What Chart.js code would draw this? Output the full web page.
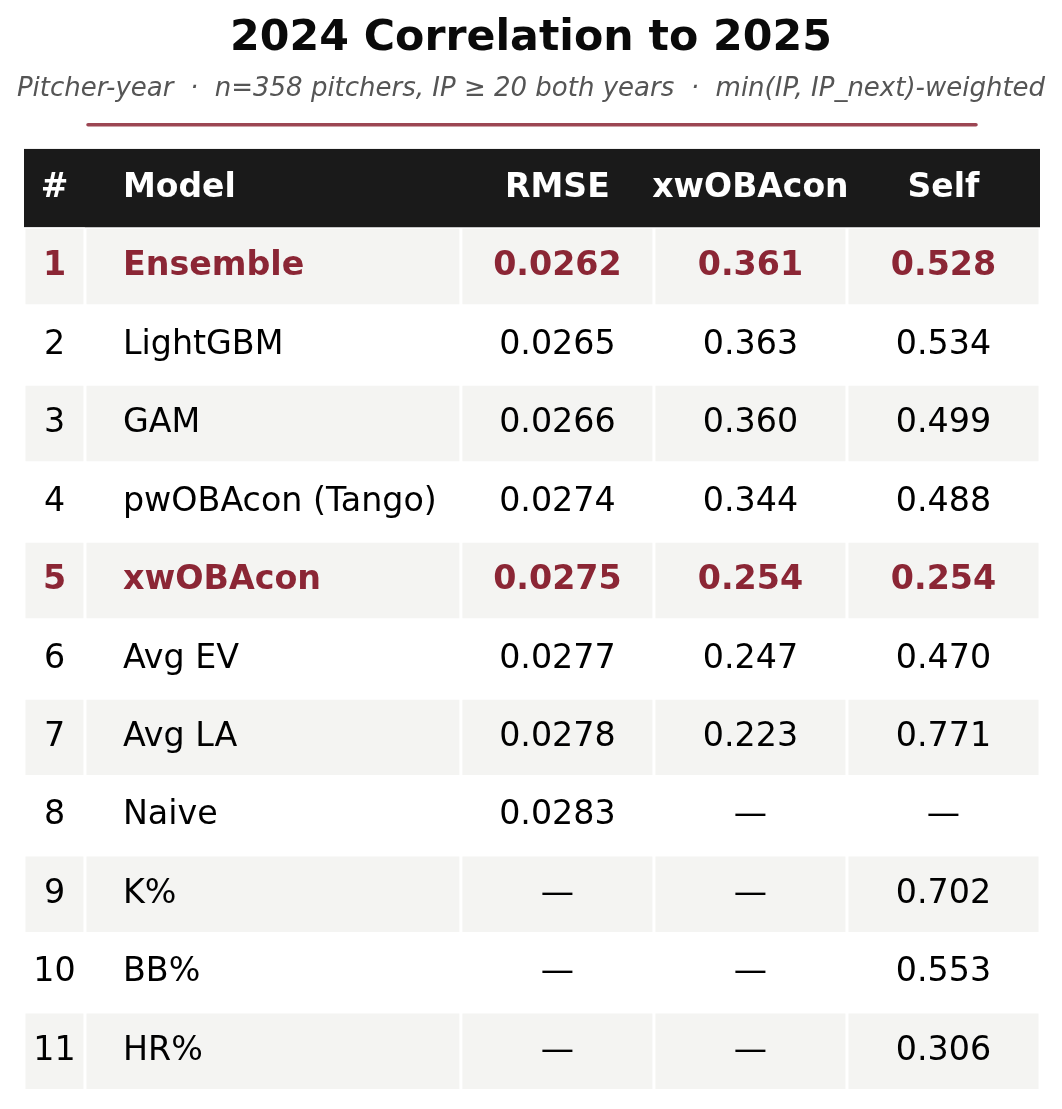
<!DOCTYPE html>
<html>
<head>
<meta charset="utf-8">
<title>2024 Correlation to 2025</title>
<script src="https://cdn.jsdelivr.net/npm/chart.js@4.4.1/dist/chart.umd.min.js"></script>
<style>
    html, body { margin: 0; padding: 0; background: #ffffff; }
</style>
</head>
<body>
<canvas id="corrTable" width="1062" height="1109"></canvas>
<script>
// ================= TABLE DATA =================

const headers = ["#", "Model", "RMSE", "xwOBAcon", "Self"];
const ranks = [1, 2, 3, 4, 5, 6, 7, 8, 9, 10, 11];
const models = ["Ensemble", "LightGBM", "GAM", "pwOBAcon (Tango)", "xwOBAcon", "Avg EV", "Avg LA", "Naive", "K%", "BB%", "HR%"];
const rmse = [0.0262, 0.0265, 0.0266, 0.0274, 0.0275, 0.0277, 0.0278, 0.0283, null, null, null];
const xwobaconCorr = [0.361, 0.363, 0.360, 0.344, 0.254, 0.247, 0.223, null, null, null, null];
const selfCorr = [0.528, 0.534, 0.499, 0.488, 0.254, 0.470, 0.771, null, 0.702, 0.553, 0.306];
const highlightRanks = [1, 5];

const FONT = "DejaVu Sans";
const RED = "#8b2635";

// column widths as fractions of the table width
const colWidths = [0.06, 0.37, 0.19, 0.19, 0.19];
const colEdges = [0];
colWidths.forEach(w => colEdges.push(colEdges[colEdges.length - 1] + w));

const rowLabels = ["header"].concat(models);

function fmt(v, digits) {
    return v === null ? "—" : v.toFixed(digits);
}

// one dataset per column, the header is a single bar across the table
const datasets = colWidths.map((w, c) => ({
    label: headers[c],
    data: rowLabels.map((_, r) => r === 0 ? (c === 0 ? [0, 1] : null) : [colEdges[c], colEdges[c + 1]]),
    backgroundColor: ctx => ctx.dataIndex === 0 ? "#1a1a1a" : (ctx.dataIndex % 2 === 1 ? "#f4f4f2" : "#ffffff"),
    borderColor: "#ffffff",
    borderWidth: ctx => ctx.dataIndex === 0 ? 0 : 1.5,
    borderSkipped: false,
    inflateAmount: 0,
    categoryPercentage: 1,
    barPercentage: 1,
    grouped: false
}));

// ================= CELL TEXT + RULE =================

const tableText = {
    id: "tableText",
    afterDatasetsDraw(chart) {
        const { ctx, scales: { x, y } } = chart;
        ctx.save();
        ctx.textBaseline = "middle";

        const cellX = c => c === 1 ? x.getPixelForValue(colEdges[1]) + 38 : x.getPixelForValue((colEdges[c] + colEdges[c + 1]) / 2);

        // header
        ctx.fillStyle = "#ffffff";
        ctx.font = "bold 33px '" + FONT + "'";
        headers.forEach((h, c) => {
            ctx.textAlign = c === 1 ? "left" : "center";
            ctx.fillText(h, cellX(c), y.getPixelForValue(0));
        });

        // body rows
        ranks.forEach((rank, i) => {
            const hi = highlightRanks.includes(rank);
            const cells = [String(rank), models[i], fmt(rmse[i], 4), fmt(xwobaconCorr[i], 3), fmt(selfCorr[i], 3)];
            ctx.fillStyle = hi ? RED : "#000000";
            ctx.font = (hi ? "bold " : "") + "33.3px '" + FONT + "'";
            const py = y.getPixelForValue(i + 1);
            cells.forEach((t, c) => {
                ctx.textAlign = c === 1 ? "left" : "center";
                ctx.fillText(t, cellX(c), py);
            });
        });

        // accent rule under the subtitle
        ctx.strokeStyle = RED;
        ctx.globalAlpha = 0.85;
        ctx.lineWidth = 3.5;
        ctx.lineCap = "round";
        ctx.beginPath();
        ctx.moveTo(88, chart.chartArea.top - 24);
        ctx.lineTo(976, chart.chartArea.top - 24);
        ctx.stroke();
        ctx.restore();
    }
};

const corrTable = new Chart(document.getElementById("corrTable"), {
    type: "bar",

    data: {
        labels: rowLabels,
        datasets: datasets
    },

    options: {
        indexAxis: "y",
        responsive: false,
        animation: false,
        events: [],

        layout: {
            padding: { left: 0, right: 0, top: 0, bottom: 18.5 }
        },

        plugins: {
            legend: { display: false },
            tooltip: { enabled: false },
            title: {
                display: true,
                text: "2024 Correlation to 2025",
                color: "#0a0a0a",
                font: { family: FONT, size: 42.7, weight: "bold" },
                padding: { top: 13.7, bottom: 8.1 }
            },
            subtitle: {
                display: true,
                text: "Pitcher-year  ·  n=358 pitchers, IP ≥ 20 both years  ·  min(IP, IP_next)-weighted",
                color: "#555555",
                font: { family: FONT, size: 26, style: "italic" },
                padding: { top: 0.4, bottom: 44.2 }
            }
        },

        scales: {
            // side margins of the table live in the scale range (24px left, 22px right of a 1016px table)
            x: {
                display: false,
                min: -24 / 1016,
                max: 1 + 22 / 1016
            },
            y: {
                display: false
            }
        }
    },

    plugins: [tableText]
});
</script>
</body>
</html>
